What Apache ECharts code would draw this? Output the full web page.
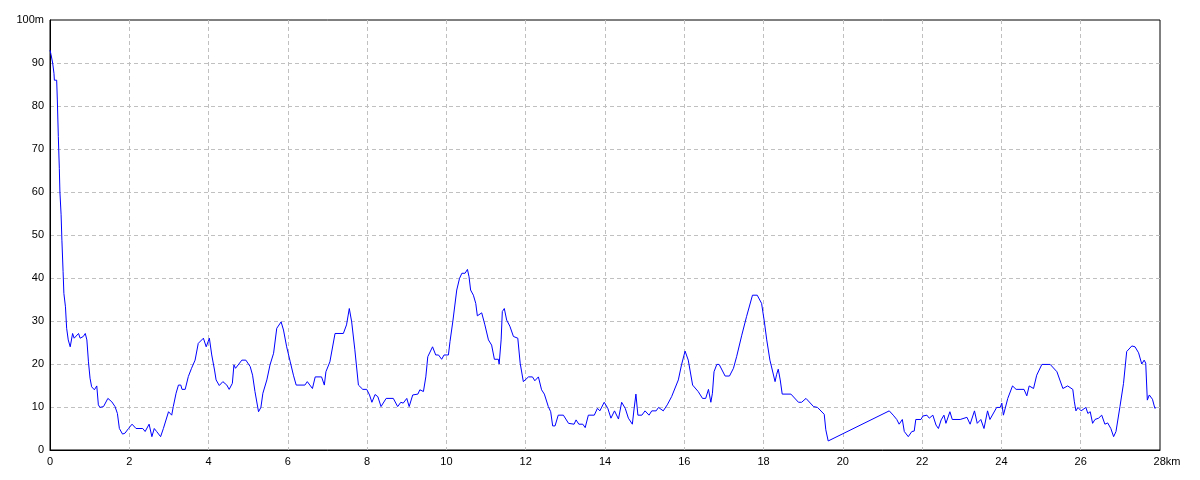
<!DOCTYPE html>
<html>
<head>
<meta charset="utf-8">
<script src="https://cdn.jsdelivr.net/npm/echarts@6/dist/echarts.min.js"></script>
<style>html,body{margin:0;padding:0;background:#fff}#c{width:1200px;height:480px}</style>
</head>
<body>
<div id="c"></div>
<script>
var distanceKm = [0,0.025,0.067,0.10,0.11,0.168,0.185,0.21,0.235,0.25,0.28,0.30,0.33,0.35,0.39,0.42,0.46,0.51,0.57,0.61,0.72,0.76,0.84,0.89,0.93,0.97,1.01,1.05,1.12,1.18,1.22,1.26,1.35,1.46,1.56,1.64,1.70,1.75,1.83,1.89,1.98,2.07,2.17,2.34,2.40,2.50,2.57,2.63,2.69,2.79,2.86,2.99,3.07,3.11,3.18,3.24,3.30,3.33,3.41,3.49,3.57,3.66,3.74,3.87,3.94,4.02,4.08,4.15,4.19,4.27,4.36,4.46,4.52,4.60,4.64,4.68,4.84,4.94,5.05,5.11,5.17,5.26,5.32,5.37,5.47,5.55,5.64,5.72,5.83,5.89,5.97,6.06,6.14,6.21,6.43,6.49,6.62,6.69,6.85,6.92,6.96,7.06,7.19,7.40,7.48,7.55,7.61,7.69,7.78,7.89,7.99,8.06,8.12,8.20,8.27,8.35,8.48,8.66,8.77,8.85,8.91,9.00,9.06,9.15,9.28,9.33,9.42,9.48,9.53,9.65,9.73,9.80,9.88,9.94,10.05,10.09,10.16,10.26,10.33,10.39,10.47,10.53,10.57,10.61,10.68,10.74,10.78,10.82,10.89,10.97,11.06,11.14,11.21,11.31,11.33,11.38,11.41,11.46,11.52,11.60,11.69,11.80,11.86,11.94,12.07,12.17,12.23,12.32,12.40,12.47,12.57,12.63,12.68,12.74,12.82,12.95,13.08,13.22,13.27,13.34,13.44,13.50,13.58,13.73,13.81,13.87,13.98,14.07,14.15,14.24,14.34,14.42,14.51,14.59,14.69,14.73,14.78,14.83,14.93,15.01,15.11,15.18,15.29,15.35,15.47,15.57,15.68,15.85,15.93,16.02,16.10,16.21,16.35,16.46,16.54,16.61,16.67,16.71,16.75,16.82,16.88,17.03,17.14,17.24,17.32,17.45,17.57,17.72,17.84,17.95,18.02,18.08,18.16,18.29,18.33,18.37,18.42,18.47,18.69,18.88,18.96,19.07,19.26,19.36,19.53,19.57,19.63,21.17,21.27,21.36,21.42,21.50,21.55,21.65,21.74,21.80,21.84,21.97,22.02,22.07,22.12,22.18,22.27,22.35,22.41,22.48,22.55,22.60,22.70,22.76,22.96,23.13,23.21,23.32,23.39,23.48,23.56,23.65,23.71,23.88,23.97,24.01,24.05,24.16,24.28,24.37,24.57,24.64,24.70,24.81,24.89,25.02,25.23,25.40,25.55,25.67,25.80,25.84,25.88,25.93,26.01,26.13,26.18,26.24,26.30,26.36,26.45,26.53,26.61,26.68,26.76,26.83,26.89,26.99,27.08,27.16,27.29,27.37,27.46,27.54,27.60,27.64,27.68,27.73,27.81,27.87,27.90];
var elevationM = [93,92,90,87.6,86,86,81.4,72.9,65.5,60,54.7,48.8,41.5,36.4,33.3,28.3,25.6,24,27.1,26,27.1,26,26.4,27.1,25.6,20.5,16.7,14.7,14,14.9,10.5,9.9,10.1,12,11.2,10.1,8.5,5,3.7,3.9,5,6,5,5,4.3,6,3.1,5,4.3,3.1,5,8.9,8.1,10.1,13.2,15.1,15.1,14.1,14.1,17.1,19,20.9,24.8,26,24,26,22.1,18.6,16.3,15,15.9,15.1,14.1,15.5,19.8,19,20.9,20.9,19.4,17.4,13.6,8.9,9.9,13.2,16.3,19.8,22.5,28.3,29.8,27.9,24,20.5,17.4,15.1,15.1,15.9,14.3,17,17,15.1,18.2,20.5,27.1,27.1,29.1,32.9,29.8,23.3,15.1,14.1,14.1,12.8,11.1,12.9,12.4,10.1,12,12,10.1,11.1,10.9,12,10.1,12.8,13,14,13.6,17,21.7,24,22.1,22.1,21.1,22.1,22.1,25.2,29.8,37.2,39.9,41.1,41.1,42,40.3,37.2,36,34.1,31.2,31.4,31.9,29.1,25.6,24.4,21.1,21.1,20,25.6,32.2,32.9,30.2,28.8,26.4,26,20.2,15.9,17,17,16.1,17,14,13,10.1,8.9,5.6,5.6,8.1,8.1,6.2,6,7,6,6,5.2,8.1,8.1,9.7,9.1,11.1,9.7,7.4,9.1,7.2,11.1,9.7,7.4,6,9.3,13,8.1,8.1,9.1,8.1,9.1,9.1,9.9,9.1,10.5,12.4,16.3,19.8,23,20.9,15.1,13.6,12,12,14.1,11.1,13.2,18.2,19.9,19.9,17.2,17.2,19,21.7,26.7,31,36,36,34.1,29.8,25.6,20.9,15.9,17.6,18.8,16.3,13,13,11.1,11.1,12,10.1,9.9,8.3,4.7,2.1,9.1,8.1,7.1,6,7.1,4.3,3.1,4.3,4.4,7.1,7.1,7.9,7.5,8.1,7.4,8.1,5.8,5,7,8.1,6.2,8.9,7.1,7.1,7.6,6,9.1,6.2,7.1,5,9.1,7.1,9.9,9.9,10.9,8.1,12,14.9,14.1,14.1,12.6,14.9,14.3,17.4,19.9,19.9,18.2,14.3,14.9,14.1,11.2,9.1,9.9,9.1,9.9,8.5,8.9,6.2,7.1,7.4,8.1,6,6.3,5,3.1,4.3,10.1,15.5,22.9,24.2,24,22.6,20,20.9,20.2,11.6,12.8,11.8,9.7,9.9];
var xTicks = {min:0, max:28, step:2, unit:'km'};
var yTicks = {min:0, max:100, step:10, unit:'m'};

var points = distanceKm.map(function(d,i){return [d, elevationM[i]];});
var chart = echarts.init(document.getElementById('c'), null, {renderer:'canvas'});
var font = 'Liberation Sans';
var split = {show:true,showMinLine:false,showMaxLine:false,lineStyle:{color:'#c0c0c0',type:[4,3],width:1}};
chart.setOption({
  animation:false,
  backgroundColor:'#ffffff',
  grid:{left:50,right:40,top:20,bottom:30,show:true,borderColor:'#000',borderWidth:1,backgroundColor:'transparent'},
  xAxis:{type:'value',min:xTicks.min,max:xTicks.max,interval:xTicks.step,
    axisLine:{lineStyle:{color:'#000',width:1}},axisTick:{show:false},
    splitLine:split,
    axisLabel:{color:'#000',fontFamily:font,fontSize:11,margin:6,
      formatter:function(v){return v===xTicks.max ? '{u|'+v+xTicks.unit+'}' : String(v);},
      rich:{u:{color:'#000',fontFamily:font,fontSize:11,padding:[0,0,0,14]}}}},
  yAxis:{type:'value',min:yTicks.min,max:yTicks.max,interval:yTicks.step,
    axisLine:{show:true,lineStyle:{color:'#000',width:1}},axisTick:{show:false},
    splitLine:split,
    axisLabel:{color:'#000',fontFamily:font,fontSize:11,margin:6,
      formatter:function(v){return v===yTicks.max ? v+yTicks.unit : String(v);}}},
  series:[{type:'line',data:points,showSymbol:false,smooth:false,
    lineStyle:{color:'#0000ff',width:1},itemStyle:{color:'#0000ff'}}]
});
</script>
</body>
</html>
